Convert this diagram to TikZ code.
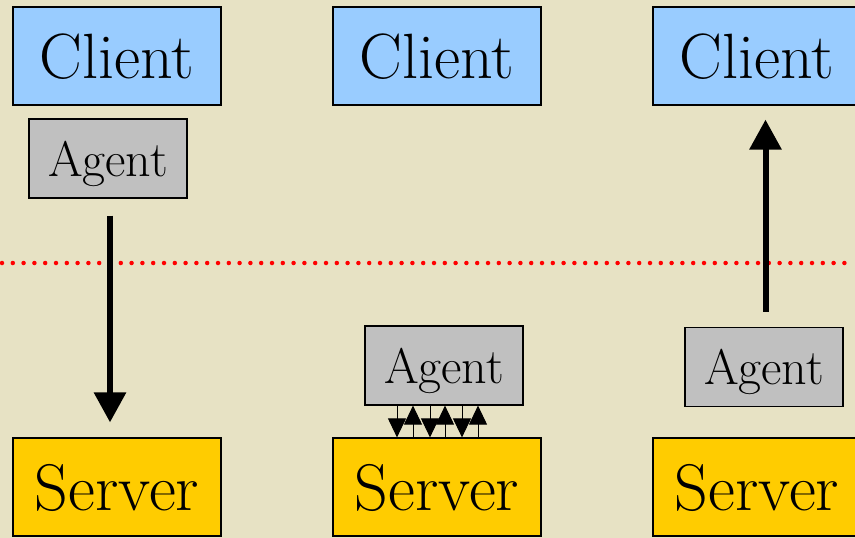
\documentclass[tikz,border=0pt]{standalone}
\usetikzlibrary{arrows.meta}

\definecolor{paper}{RGB}{231,226,196}
\definecolor{clientblue}{RGB}{153,204,255}
\definecolor{agentgray}{RGB}{192,192,192}
\definecolor{servergold}{RGB}{255,204,0}

\tikzset{
  box/.style={draw=black, line width=1.2pt, inner sep=0pt, text depth=0pt},
  clientbox/.style={box, fill=clientblue, minimum width=208pt, minimum height=98pt,
    font=\fontsize{64}{64}\selectfont},
  serverbox/.style={box, fill=servergold, minimum width=208pt, minimum height=98pt,
    font=\fontsize{66}{66}\selectfont},
  agentbox/.style={box, fill=agentgray, minimum width=158pt, minimum height=79pt,
    font=\fontsize{50}{50}\selectfont},
  bigarrow/.style={line width=6pt, -{Triangle[length=30pt,width=31pt]}},
  smallarrow/.style={line width=1pt, -{Triangle[length=19pt,width=18pt]}},
  boundary/.style={red, line width=4.5pt, line cap=round, dash pattern=on 0pt off 10.8pt}
}

\begin{document}
\begin{tikzpicture}[x=1pt, y=-1pt]
  \useasboundingbox (0,0) rectangle (855,538);
  \fill[paper] (0,0) rectangle (855,538);
  \clip (0,0) rectangle (855,538);

  % network boundary
  \coordinate (bl) at (2,263);
  \coordinate (br) at (855,263);
  \draw[boundary] (bl) -- (br);

  % clients
  \node[clientbox] (c1) at (117,56) {Client};
  \node[clientbox] (c2) at (437,56) {Client};
  \node[clientbox] (c3) at (757,56) {Client};

  % servers
  \node[serverbox] (s1) at (117,487) {Server};
  \node[serverbox] (s2) at (437,487) {Server};
  \node[serverbox] (s3) at (757,487) {Server};

  % agents
  \node[agentbox] (a1) at (108,158.5) {Agent};
  \node[agentbox] (a2) at (444,365.5) {Agent};
  \node[agentbox] (a3) at (764,367) {Agent};

  % agent travels from client to server
  \coordinate (a1out) at ([xshift=2pt,yshift=-17pt]a1.south);
  \coordinate (s1in) at ([xshift=-7pt,yshift=15pt]s1.north);
  \draw[bigarrow] (a1out) -- (s1in);

  % agent returns result to client
  \coordinate (a3out) at ([xshift=1.5pt,yshift=15pt]a3.north);
  \coordinate (c3in) at ([xshift=8.5pt,yshift=-14pt]c3.south);
  \draw[bigarrow] (a3out) -- (c3in);

  % local interaction between agent and server
  \foreach \dx in {-40,-24,-7,8,25,41}{
    \coordinate (top\dx) at ([xshift=\dx pt]s2.north |- a2.south);
    \coordinate (bot\dx) at ([xshift=\dx pt]s2.north);
  }
  \draw[smallarrow] (top-40) -- (bot-40);
  \draw[smallarrow] (bot-24) -- (top-24);
  \draw[smallarrow] (top-7) -- (bot-7);
  \draw[smallarrow] (bot8) -- (top8);
  \draw[smallarrow] (top25) -- (bot25);
  \draw[smallarrow] (bot41) -- (top41);
\end{tikzpicture}
\end{document}
